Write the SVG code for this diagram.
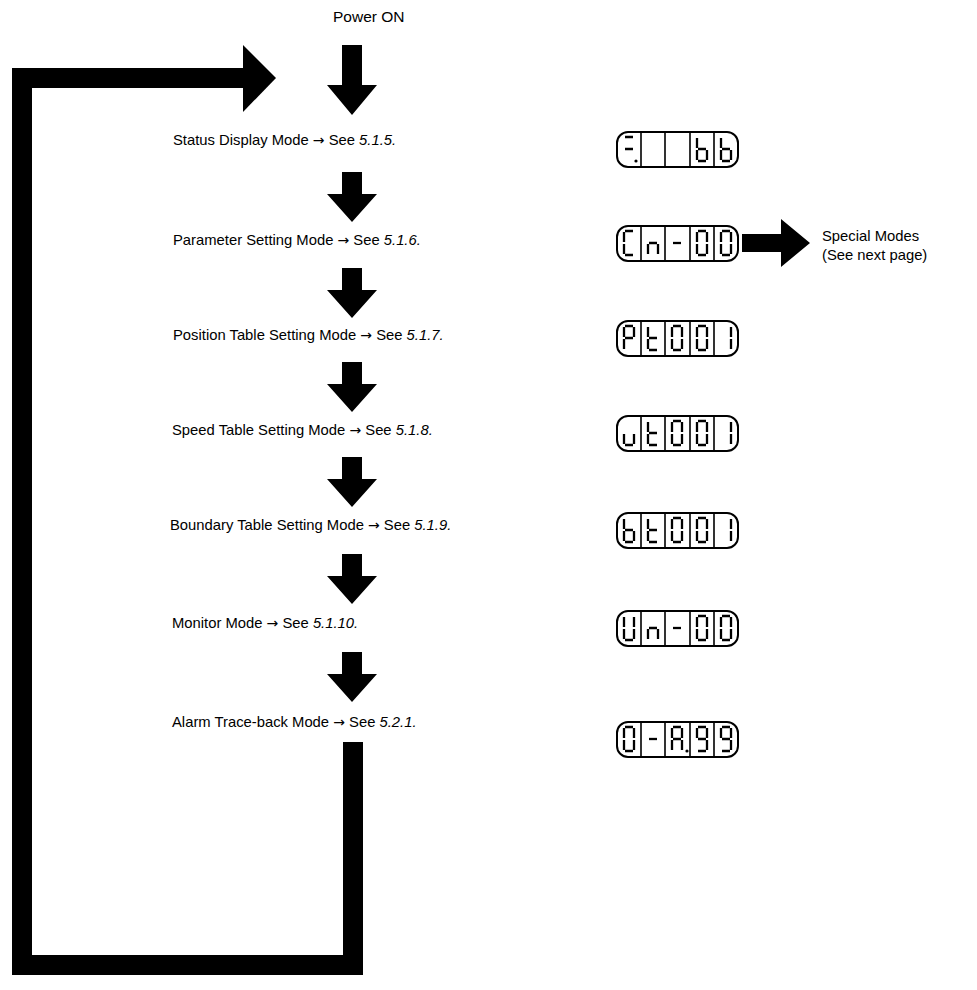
<svg xmlns="http://www.w3.org/2000/svg" xmlns:xlink="http://www.w3.org/1999/xlink" width="977" height="990" viewBox="0 0 977 990">
<style>
text{font-family:"Liberation Sans",Arial,sans-serif;font-size:14.8px;fill:#000}
.it{font-style:italic}
.ar{font-family:"DejaVu Sans",sans-serif;font-size:14px}
.seg{stroke:#000;stroke-width:2.3;fill:none}
.box{fill:#fff;stroke:#000;stroke-width:2}
.div{stroke:#000;stroke-width:1.6}
.blk{fill:#000}
</style>
<defs>
<path id="darrow" d="M-10 0 H10 V22 H25 L0 50 L-25 22 H-10 Z"/>
<g id="d0" class="seg"><path d="M8 5H16M17 6V16M17 18V28M8 29H16M7 18V28M7 6V16"/></g>
<g id="dC" class="seg"><path d="M8 5H16M8 29H16M7 18V28M7 6V16"/></g>
<g id="dn" class="seg"><path d="M8 17H16M17 18V28M7 18V28"/></g>
<g id="dm" class="seg"><path d="M8 17H16"/></g>
<g id="dP" class="seg"><path d="M8 5H16M17 6V16M7 18V28M7 6V16M8 17H16"/></g>
<g id="dt" class="seg"><path d="M8 29H16M7 18V28M7 6V16M8 17H16"/></g>
<g id="d1" class="seg"><path d="M17 6V16M17 18V28"/></g>
<g id="du" class="seg"><path d="M17 18V28M8 29H16M7 18V28"/></g>
<g id="db" class="seg"><path d="M17 18V28M8 29H16M7 18V28M7 6V16M8 17H16"/></g>
<g id="dU" class="seg"><path d="M17 6V16M17 18V28M8 29H16M7 18V28M7 6V16"/></g>
<g id="dA" class="seg"><path d="M8 5H16M17 6V16M17 18V28M7 18V28M7 6V16M8 17H16"/></g>
<g id="d9" class="seg"><path d="M8 5H16M17 6V16M17 18V28M8 29H16M7 6V16M8 17H16"/></g>
<g id="deq" class="seg"><path d="M8 5H16M8 17H16"/></g>
<circle id="dot" cx="21" cy="29" r="1.6"/>
<g id="frame">
<rect class="box" x="0" y="0" width="121" height="35" rx="11"/>
<path class="div" d="M24 0V35M48 0V35M73 0V35M97 0V35"/>
</g>
</defs>

<g id="connectors">
<polyline points="353,742 353,965 22,965 22,78 245,78" fill="none" stroke="#000" stroke-width="20" stroke-linejoin="miter"/>
<polygon class="blk" points="243,45 276,78 243,112"/>
<path class="blk" d="M342 45 H362 V85 H377 L352 115 L327 85 H342 Z"/>
<use href="#darrow" x="352" y="172"/>
<use href="#darrow" x="352" y="268"/>
<use href="#darrow" x="352" y="362"/>
<use href="#darrow" x="352" y="457"/>
<use href="#darrow" x="352" y="554"/>
<use href="#darrow" x="352" y="652"/>
<path class="blk" d="M742 234 H781 V219 L810 243 L781 267 V252 H742 Z"/>
</g>

<g id="power-on"><text x="333" y="22" style="font-size:15.5px">Power ON</text></g>

<g id="status">
<text x="173" y="145">Status Display Mode <tspan class="ar">→</tspan> See <tspan class="it">5.1.5.</tspan></text>
<g transform="translate(617,132)">
<use href="#frame"/>
<use href="#deq" x="0"/><use href="#dot" x="-2"/>
<use href="#db" x="73"/><use href="#db" x="97"/>
</g>
</g>

<g id="parameter">
<text x="173" y="245">Parameter Setting Mode <tspan class="ar">→</tspan> See <tspan class="it">5.1.6.</tspan></text>
<g transform="translate(617,226)">
<use href="#frame"/>
<use href="#dC" x="0"/><use href="#dn" x="24"/><use href="#dm" x="48"/><use href="#d0" x="73"/><use href="#d0" x="97"/>
</g>
</g>

<g id="special"><text x="822" y="241">Special Modes</text><text x="822" y="260">(See next page)</text></g>

<g id="position">
<text x="173" y="340">Position Table Setting Mode <tspan class="ar">→</tspan> See <tspan class="it">5.1.7.</tspan></text>
<g transform="translate(617,321)">
<use href="#frame"/>
<use href="#dP" x="0"/><use href="#dt" x="24"/><use href="#d0" x="48"/><use href="#d0" x="73"/><use href="#d1" x="97"/>
</g>
</g>

<g id="speed">
<text x="172" y="435">Speed Table Setting Mode <tspan class="ar">→</tspan> See <tspan class="it">5.1.8.</tspan></text>
<g transform="translate(617,416)">
<use href="#frame"/>
<use href="#du" x="0"/><use href="#dt" x="24"/><use href="#d0" x="48"/><use href="#d0" x="73"/><use href="#d1" x="97"/>
</g>
</g>

<g id="boundary">
<text x="170" y="530">Boundary Table Setting Mode <tspan class="ar">→</tspan> See <tspan class="it">5.1.9.</tspan></text>
<g transform="translate(617,513)">
<use href="#frame"/>
<use href="#db" x="0"/><use href="#dt" x="24"/><use href="#d0" x="48"/><use href="#d0" x="73"/><use href="#d1" x="97"/>
</g>
</g>

<g id="monitor">
<text x="172" y="628">Monitor Mode <tspan class="ar">→</tspan> See <tspan class="it">5.1.10.</tspan></text>
<g transform="translate(617,611)">
<use href="#frame"/>
<use href="#dU" x="0"/><use href="#dn" x="24"/><use href="#dm" x="48"/><use href="#d0" x="73"/><use href="#d0" x="97"/>
</g>
</g>

<g id="alarm">
<text x="172" y="727">Alarm Trace-back Mode <tspan class="ar">→</tspan> See <tspan class="it">5.2.1.</tspan></text>
<g transform="translate(617,722)">
<use href="#frame"/>
<use href="#d0" x="0"/><use href="#dm" x="24"/><use href="#dA" x="48"/><use href="#dot" x="49"/><use href="#d9" x="73"/><use href="#d9" x="97"/>
</g>
</g>
</svg>
